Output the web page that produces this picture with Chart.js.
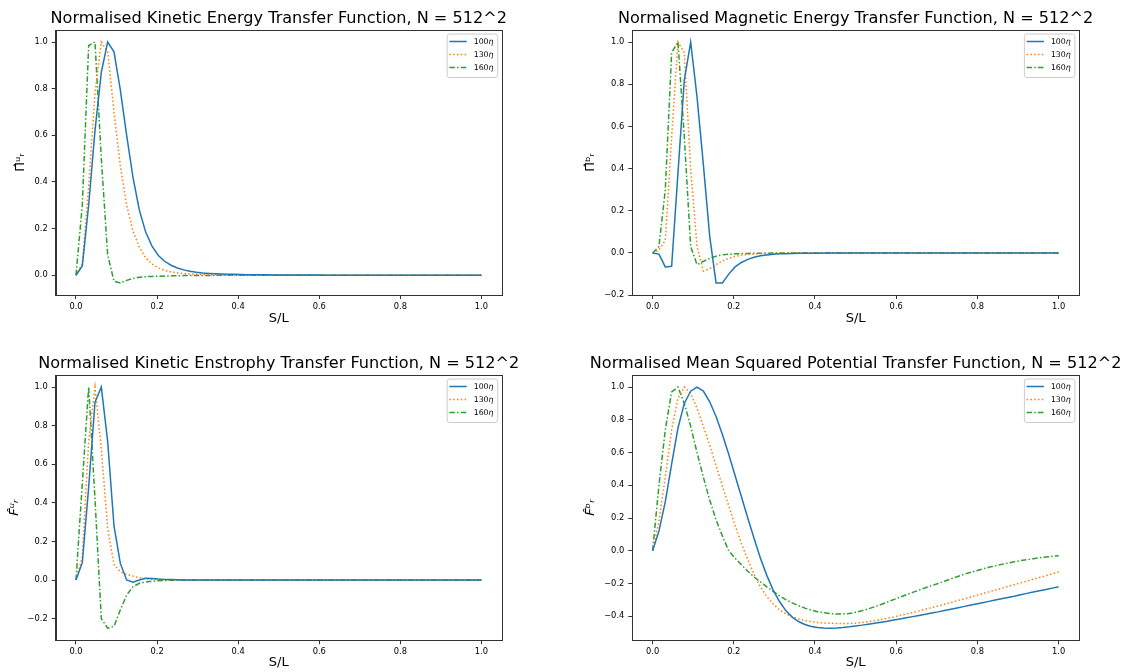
<!DOCTYPE html>
<html><head><meta charset="utf-8">
<script src="https://cdn.jsdelivr.net/npm/chart.js@4.4.1/dist/chart.umd.min.js"></script>
<style>
html,body{margin:0;padding:0;background:#fff;width:1133px;height:672px;overflow:hidden}
canvas{position:absolute}
</style></head><body>
<canvas id="c0" width="566" height="336" style="left:0;top:0"></canvas>
<canvas id="c1" width="567" height="336" style="left:566px;top:0"></canvas>
<canvas id="c2" width="566" height="336" style="left:0;top:336px"></canvas>
<canvas id="c3" width="567" height="336" style="left:566px;top:336px"></canvas>
<script>
// ---------- data ----------
const sOverL = [0, 0.0156, 0.0313, 0.0469, 0.0625, 0.0781, 0.0938, 0.1094, 0.125, 0.1406,
  0.1563, 0.1719, 0.1875, 0.2031, 0.2188, 0.2344, 0.25, 0.2656, 0.2813, 0.2969,
  0.3125, 0.3281, 0.3438, 0.3594, 0.375, 0.3906, 0.4063, 0.4219, 0.4375, 0.4531,
  0.4688, 0.4844, 0.5, 0.5156, 0.5313, 0.5469, 0.5625, 0.5781, 0.5938, 0.6094,
  0.625, 0.6406, 0.6563, 0.6719, 0.6875, 0.7031, 0.7188, 0.7344, 0.75, 0.7656,
  0.7813, 0.7969, 0.8125, 0.8281, 0.8438, 0.8594, 0.875, 0.8906, 0.9063, 0.9219,
  0.9375, 0.9531, 0.9688, 0.9844, 1];

const seriesLabels = ['100\u03b7', '130\u03b7', '160\u03b7'];

const xTicks = [0, 0.2, 0.4, 0.6, 0.8, 1.0];
const yTicksKE = [0, 0.2, 0.4, 0.6, 0.8, 1.0];
const yTicksME = [-0.2, 0, 0.2, 0.4, 0.6, 0.8, 1.0];
const yTicksKS = [-0.2, 0, 0.2, 0.4, 0.6, 0.8, 1.0];
const yTicksMS = [-0.4, -0.2, 0, 0.2, 0.4, 0.6, 0.8, 1.0];

// Kinetic energy transfer
const keBlue = [0, 0.04, 0.3, 0.62, 0.87, 1.0, 0.958, 0.795, 0.6, 0.42,
  0.28, 0.185, 0.125, 0.085, 0.06, 0.043, 0.031, 0.023, 0.017, 0.013,
  0.01, 0.008, 0.0065, 0.0055, 0.0045, 0.0038, 0.0032, 0.0027, 0.0023, 0.002,
  0.0017, 0.0015, 0.0013, 0.0011, 0.001, 0.0009, 0.0008, 0.0007, 0.0006, 0.0005,
  0.0005, 0.0004, 0.0004, 0.0003, 0.0003, 0.0003, 0.0002, 0.0002, 0.0002, 0.0002,
  0.0001, 0.0001, 0.0001, 0.0001, 0.0001, 0.0001, 0.0001, 0, 0, 0,
  0, 0, 0, 0, 0];
const keOrange = [0, 0.05, 0.38, 0.78, 1.0, 0.96, 0.7, 0.47, 0.3, 0.19,
  0.12, 0.075, 0.048, 0.031, 0.021, 0.014, 0.01, 0.007, 0.005, 0.004,
  0.003, 0.0025, 0.002, 0.0016, 0.0013, 0.0011, 0.0009, 0.0008, 0.0007, 0.0006,
  0.0005, 0.0004, 0.0004, 0.0003, 0.0003, 0.0002, 0.0002, 0.0002, 0.0001, 0.0001,
  0.0001, 0.0001, 0.0001, 0.0001, 0.0001, 0, 0, 0, 0, 0,
  0, 0, 0, 0, 0, 0, 0, 0, 0, 0,
  0, 0, 0, 0, 0];
const keGreen = [0, 0.3, 0.985, 1.0, 0.5, 0.088, -0.026, -0.033, -0.022, -0.014,
  -0.009, -0.006, -0.005, -0.004, -0.003, -0.0025, -0.002, -0.0015, -0.0012, -0.001,
  -0.0008, -0.0006, -0.0005, -0.0004, -0.0003, -0.0002, -0.0002, -0.0001, -0.0001, 0,
  0, 0, 0, 0, 0, 0, 0, 0, 0, 0,
  0, 0, 0, 0, 0, 0, 0, 0, 0, 0,
  0, 0, 0, 0, 0, 0, 0, 0, 0, 0,
  0, 0, 0, 0, 0];

// Magnetic energy transfer
const meBlue = [0, -0.005, -0.066, -0.063, 0.38, 0.82, 1.0, 0.74, 0.42, 0.08,
  -0.142, -0.142, -0.1, -0.066, -0.045, -0.03, -0.02, -0.013, -0.009, -0.006,
  -0.004, -0.003, -0.002, -0.0015, -0.001, -0.0008, -0.0006, -0.0004, -0.0003, -0.0002,
  -0.0001, -0.0001, 0, 0, 0, 0, 0, 0, 0, 0,
  0, 0, 0, 0, 0, 0, 0, 0, 0, 0,
  0, 0, 0, 0, 0, 0, 0, 0, 0, 0,
  0, 0, 0, 0, 0];
const meOrange = [0, 0.015, 0.06, 0.55, 1.0, 0.95, 0.4, 0.03, -0.085, -0.075,
  -0.055, -0.038, -0.025, -0.016, -0.01, -0.007, -0.005, -0.003, -0.002, -0.0015,
  -0.001, -0.0007, -0.0005, -0.0003, -0.0002, -0.0001, 0, 0, 0, 0,
  0, 0, 0, 0, 0, 0, 0, 0, 0, 0,
  0, 0, 0, 0, 0, 0, 0, 0, 0, 0,
  0, 0, 0, 0, 0, 0, 0, 0, 0, 0,
  0, 0, 0, 0, 0];
const meGreen = [0, 0.03, 0.3, 0.95, 1.0, 0.55, 0.03, -0.055, -0.04, -0.025,
  -0.015, -0.009, -0.006, -0.004, -0.003, -0.002, -0.0015, -0.001, -0.0007, -0.0005,
  -0.0003, -0.0002, -0.0001, 0, 0, 0, 0, 0, 0, 0,
  0, 0, 0, 0, 0, 0, 0, 0, 0, 0,
  0, 0, 0, 0, 0, 0, 0, 0, 0, 0,
  0, 0, 0, 0, 0, 0, 0, 0, 0, 0,
  0, 0, 0, 0, 0];

// Kinetic enstrophy transfer
const ksBlue = [0, 0.09, 0.48, 0.92, 1.0, 0.72, 0.28, 0.086, 0.0, -0.012,
  0.0, 0.009, 0.008, 0.005, 0.003, 0.002, 0.001, 0.0006, 0.0003, 0.0002,
  0.0001, 0, 0, 0, 0, 0, 0, 0, 0, 0,
  0, 0, 0, 0, 0, 0, 0, 0, 0, 0,
  0, 0, 0, 0, 0, 0, 0, 0, 0, 0,
  0, 0, 0, 0, 0, 0, 0, 0, 0, 0,
  0, 0, 0, 0, 0];
const ksOrange = [0, 0.12, 0.72, 1.0, 0.68, 0.27, 0.08, 0.043, 0.03, 0.02,
  0.012, 0.007, 0.004, 0.0025, 0.0015, 0.001, 0.0006, 0.0004, 0.0002, 0.0001,
  0, 0, 0, 0, 0, 0, 0, 0, 0, 0,
  0, 0, 0, 0, 0, 0, 0, 0, 0, 0,
  0, 0, 0, 0, 0, 0, 0, 0, 0, 0,
  0, 0, 0, 0, 0, 0, 0, 0, 0, 0,
  0, 0, 0, 0, 0];
const ksGreen = [0, 0.5, 1.0, 0.42, -0.2, -0.25, -0.24, -0.155, -0.078, -0.035,
  -0.017, -0.01, -0.006, -0.004, -0.0025, -0.0015, -0.001, -0.0006, -0.0004, -0.0002,
  0, 0, 0, 0, 0, 0, 0, 0, 0, 0,
  0, 0, 0, 0, 0, 0, 0, 0, 0, 0,
  0, 0, 0, 0, 0, 0, 0, 0, 0, 0,
  0, 0, 0, 0, 0, 0, 0, 0, 0, 0,
  0, 0, 0, 0, 0];

// Mean squared potential transfer
const msBlue = [0, 0.12, 0.3, 0.53, 0.75, 0.9, 0.975, 1.0, 0.975, 0.91,
  0.82, 0.71, 0.59, 0.46, 0.33, 0.2, 0.075, -0.045, -0.15, -0.24,
  -0.31, -0.365, -0.405, -0.432, -0.45, -0.462, -0.469, -0.472, -0.473, -0.471,
  -0.468, -0.464, -0.459, -0.454, -0.448, -0.442, -0.436, -0.43, -0.423, -0.416,
  -0.409, -0.402, -0.395, -0.388, -0.38, -0.373, -0.365, -0.357, -0.349, -0.341,
  -0.333, -0.325, -0.317, -0.309, -0.301, -0.293, -0.285, -0.277, -0.268, -0.26,
  -0.252, -0.244, -0.236, -0.228, -0.22];
const msOrange = [0, 0.18, 0.45, 0.74, 0.93, 1.0, 0.96, 0.87, 0.76, 0.645,
  0.52, 0.395, 0.275, 0.155, 0.045, -0.055, -0.145, -0.22, -0.28, -0.325,
  -0.36, -0.385, -0.403, -0.416, -0.426, -0.433, -0.438, -0.441, -0.443, -0.444,
  -0.445, -0.444, -0.442, -0.438, -0.433, -0.427, -0.42, -0.412, -0.404, -0.395,
  -0.386, -0.377, -0.367, -0.357, -0.347, -0.337, -0.327, -0.316, -0.305, -0.295,
  -0.284, -0.273, -0.262, -0.251, -0.24, -0.229, -0.218, -0.207, -0.196, -0.185,
  -0.174, -0.163, -0.152, -0.141, -0.13];
const msGreen = [0, 0.4, 0.74, 0.97, 1.0, 0.9, 0.76, 0.6, 0.45, 0.31,
  0.19, 0.09, 0.0, -0.045, -0.085, -0.125, -0.16, -0.19, -0.22, -0.248,
  -0.275, -0.298, -0.318, -0.335, -0.35, -0.362, -0.372, -0.378, -0.383, -0.386,
  -0.386, -0.383, -0.376, -0.366, -0.355, -0.342, -0.328, -0.313, -0.298, -0.283,
  -0.268, -0.254, -0.24, -0.226, -0.213, -0.2, -0.186, -0.172, -0.158, -0.145,
  -0.133, -0.122, -0.111, -0.101, -0.092, -0.083, -0.075, -0.067, -0.06, -0.054,
  -0.048, -0.043, -0.038, -0.034, -0.03];

// ---------- styling ----------
const FONT = '"DejaVu Sans", "Liberation Sans", sans-serif';
const COLORS = ['#1f77b4', '#ff7f0e', '#2ca02c'];
const DASHES = [[], [1.5, 2.3], [5.5, 2.2, 1.5, 2.2]];
const AXIS = '#333333';

function fmt(v) {
  const r = Math.round(v * 10) / 10;
  if (r < 0) return '\u2212' + Math.abs(r).toFixed(1);
  return Math.abs(r).toFixed(1);
}

const deco = {
  id: 'deco',
  afterDraw(chart) {
    const o = chart.options.plugins.deco;
    const ca = chart.chartArea;
    const ctx = chart.ctx;
    ctx.save();
    // frame
    ctx.strokeStyle = AXIS;
    ctx.lineWidth = 1;
    ctx.strokeRect(Math.round(ca.left) + 0.5, Math.round(ca.top) + 0.5,
      Math.round(ca.right) - Math.round(ca.left), Math.round(ca.bottom) - Math.round(ca.top));
    // title
    ctx.fillStyle = '#000';
    ctx.font = '16.1px ' + FONT;
    ctx.textAlign = 'center';
    ctx.textBaseline = 'middle';
    ctx.fillText(o.title, (ca.left + ca.right) / 2, ca.top - o.titleGap);
    // legend
    const bw = 50.5, bh = 43.5;
    const bx = ca.right - 4.5 - bw, by = ca.top + 3.5;
    ctx.beginPath();
    if (ctx.roundRect) ctx.roundRect(bx + 0.5, by + 0.5, bw, bh, 2.5); else ctx.rect(bx + 0.5, by + 0.5, bw, bh);
    ctx.fillStyle = 'rgba(255,255,255,0.8)';
    ctx.fill();
    ctx.strokeStyle = '#cccccc';
    ctx.lineWidth = 1;
    ctx.stroke();
    ctx.textAlign = 'left';
    chart.data.datasets.forEach((ds, i) => {
      const y = by + 8 + 13 * i;
      ctx.beginPath();
      ctx.setLineDash(ds.borderDash || []);
      ctx.strokeStyle = ds.borderColor;
      ctx.lineWidth = 1.5;
      ctx.moveTo(bx + 2.7, y);
      ctx.lineTo(bx + 20, y);
      ctx.stroke();
      ctx.setLineDash([]);
      ctx.fillStyle = '#000';
      // number upright, eta italic (as in mathtext)
      const num = ds.label.slice(0, -1), sym = ds.label.slice(-1);
      ctx.font = '7.8px ' + FONT;
      ctx.fillText(num, bx + 27, y + 0.5);
      const w = ctx.measureText(num).width;
      ctx.font = 'italic 7.8px ' + FONT;
      ctx.fillText(sym, bx + 27 + w, y + 0.5);
    });
    ctx.restore();
  }
};

function makePanel(id, g, title, yLabel, series, yTicks) {
  const all = [].concat(...series);
  const lo = Math.min(...all), hi = Math.max(...all), m = (hi - lo) * 0.05;
  const xlo = Math.min(...sOverL), xhi = Math.max(...sOverL), xm = (xhi - xlo) * 0.05;
  const datasets = series.map((ys, i) => ({
    label: seriesLabels[i],
    data: sOverL.map((x, j) => ({x: x, y: ys[j]})),
    borderColor: COLORS[i],
    backgroundColor: COLORS[i],
    borderWidth: 1.5,
    borderDash: DASHES[i],
    pointRadius: 0,
    tension: 0,
    fill: false
  }));
  const tickFont = {family: FONT, size: 8.3};
  const common = {
    grid: {drawOnChartArea: false, drawTicks: true, tickLength: 4, tickColor: AXIS, tickWidth: 1},
    border: {display: true, color: AXIS, width: 1}
  };
  new Chart(document.getElementById(id), {
    type: 'line',
    data: {datasets},
    options: {
      responsive: false, animation: false, devicePixelRatio: 1,
      layout: {padding: {left: 0, right: g.padRight, top: g.padTop, bottom: 0}},
      plugins: {
        legend: {display: false}, tooltip: {enabled: false}, title: {display: false},
        deco: {title: title, titleGap: g.titleGap}
      },
      scales: {
        x: Object.assign({
          type: 'linear', min: xlo - xm, max: xhi + xm,
          afterBuildTicks: s => { s.ticks = xTicks.map(v => ({value: v})); },
          afterFit: s => { s.height = g.xAxisH; },
          ticks: {font: tickFont, color: '#000', padding: 2.5, maxRotation: 0, autoSkip: false, callback: v => fmt(v)},
          title: {display: true, text: 'S/L', color: '#000', font: {family: FONT, size: 13}, padding: {top: 0, bottom: g.xTitlePad}}
        }, common),
        y: Object.assign({
          type: 'linear', min: lo - m, max: hi + m,
          afterBuildTicks: s => { s.ticks = yTicks.map(v => ({value: v})); },
          afterFit: s => { s.width = g.yAxisW; },
          ticks: {font: tickFont, color: '#000', padding: 4, autoSkip: false, callback: v => fmt(v)},
          title: {display: true, text: yLabel, color: '#000', font: {family: FONT, size: 13, style: g.italic ? 'italic' : 'normal'}, padding: {top: g.yTitlePad, bottom: 0}}
        }, common)
      }
    },
    plugins: [deco]
  });
}

const gTL = {padRight: 64.3, padTop: 30, yAxisW: 55.7, xAxisH: 41, titleGap: 11, xTitlePad: 10, yTitlePad: 12.5};
const gTR = {padRight: 54.1, padTop: 30, yAxisW: 66.3, xAxisH: 41, titleGap: 11, xTitlePad: 10, yTitlePad: 17.2};
const gBL = {padRight: 64.3, padTop: 39, yAxisW: 55.7, xAxisH: 31.7, titleGap: 11.5, xTitlePad: 1.6, yTitlePad: 7.2, italic: true};
const gBR = {padRight: 54.1, padTop: 39, yAxisW: 66.3, xAxisH: 31.7, titleGap: 11.5, xTitlePad: 1.6, yTitlePad: 17.2, italic: true};

makePanel('c0', gTL, 'Normalised Kinetic Energy Transfer Function, N = 512^2', '\u03a0\u0302\u1d58\u1d63', [keBlue, keOrange, keGreen], yTicksKE);
makePanel('c1', gTR, 'Normalised Magnetic Energy Transfer Function, N = 512^2', '\u03a0\u0302\u1d47\u1d63', [meBlue, meOrange, meGreen], yTicksME);
makePanel('c2', gBL, 'Normalised Kinetic Enstrophy Transfer Function, N = 512^2', 'F\u0302\u1d58\u1d63', [ksBlue, ksOrange, ksGreen], yTicksKS);
makePanel('c3', gBR, 'Normalised Mean Squared Potential Transfer Function, N = 512^2', 'F\u0302\u1d47\u1d63', [msBlue, msOrange, msGreen], yTicksMS);
</script>
</body></html>
